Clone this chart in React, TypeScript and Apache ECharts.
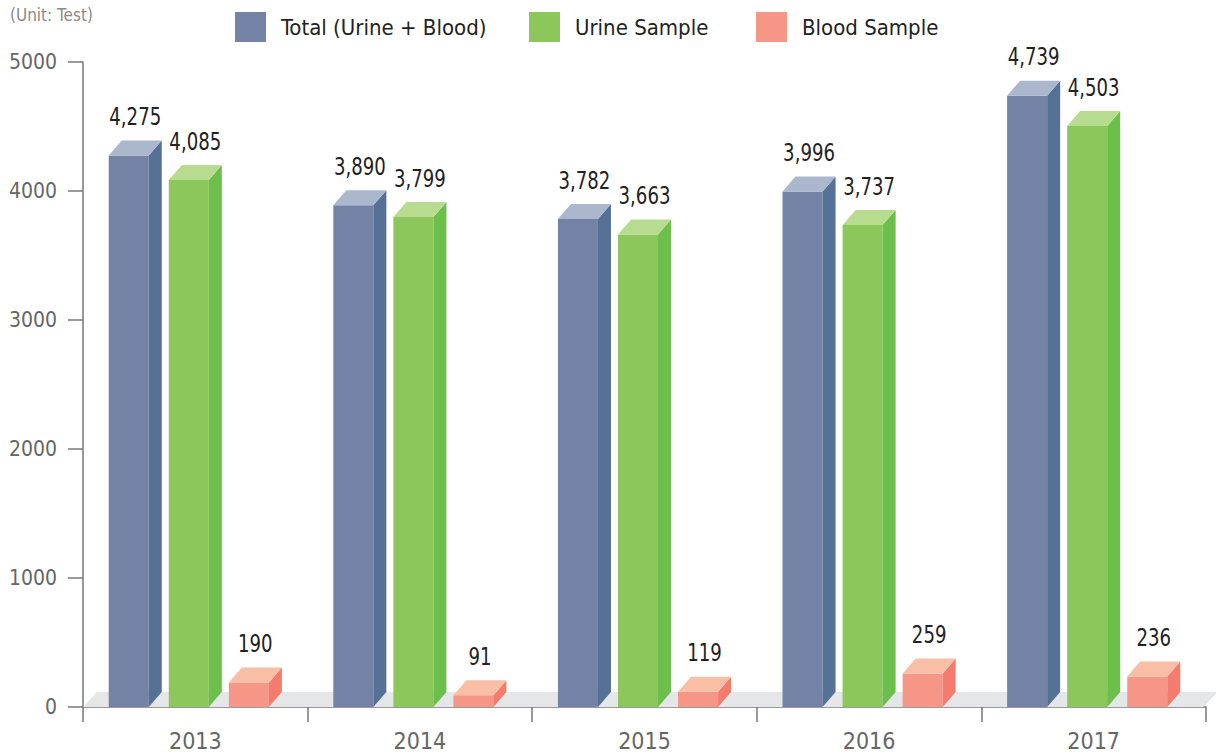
import React, { useEffect, useRef } from "react";
import * as echarts from "echarts";

const years = ["2013", "2014", "2015", "2016", "2017"];
const totalValues = [4275, 3890, 3782, 3996, 4739];
const urineValues = [4085, 3799, 3663, 3737, 4503];
const bloodValues = [190, 91, 119, 259, 236];
const seriesNames = ["Total (Urine + Blood)", "Urine Sample", "Blood Sample"];
const yTicks = [0, 1000, 2000, 3000, 4000, 5000];
const legendLefts = [235, 529, 756];

const palettes = [
  { front: "#7382a5", side: "#557196", top: "#abb7cc" },
  { front: "#8bc75a", side: "#6cbf4b", top: "#b8dc8f" },
  { front: "#f69686", side: "#f37c6e", top: "#f9bea6" },
];

const FONT = "'DejaVu Sans Condensed', 'Liberation Sans Narrow', Roboto, sans-serif";

function makeBarSeries(idx: number, values: number[]) {
  const pal = palettes[idx];
  return {
    type: "custom",
    name: seriesNames[idx],
    data: values.map((v, i) => [i, v]),
    encode: { x: 0, y: 1 },
    z: 3,
    itemStyle: { color: pal.front },
    renderItem: (params: any, api: any) => {
      const cat = api.value(0);
      const val = api.value(1);
      const top = api.coord([cat, val]);
      const base = api.coord([cat, 0]);
      const bw = api.size([1, 0])[0];
      const k = bw / 224.4;
      const w = 40 * k;
      const step = 60 * k;
      const dx = 13;
      const dy = 15;
      const left = top[0] - 86.5 * k + step * idx;
      const yTop = top[1];
      const yBase = base[1];
      return {
        type: "group",
        children: [
          {
            type: "rect",
            shape: { x: left, y: yTop, width: w, height: yBase - yTop },
            style: { fill: pal.front },
          },
          {
            type: "polygon",
            shape: {
              points: [
                [left + w, yTop],
                [left + w + dx, yTop - dy],
                [left + w + dx, yBase - dy],
                [left + w, yBase],
              ],
            },
            style: { fill: pal.side },
          },
          {
            type: "polygon",
            shape: {
              points: [
                [left, yTop],
                [left + dx, yTop - dy],
                [left + w + dx, yTop - dy],
                [left + w, yTop],
              ],
            },
            style: { fill: pal.top },
          },
          {
            type: "text",
            x: left + w / 2 + dx / 2,
            y: yTop - dy - 12,
            scaleX: 0.84,
            style: {
              text: val.toLocaleString("en-US"),
              x: 0,
              y: 0,
              align: "center",
              verticalAlign: "bottom",
              font: `24px ${FONT}`,
              fill: "#222",
            },
          },
        ],
      };
    },
  };
}

export default function App() {
  const ref = useRef<HTMLDivElement>(null);
  useEffect(() => {
    if (!ref.current) return;
    const chart = echarts.init(ref.current, null, { renderer: "svg" });
    chart.setOption({
      animation: false,
      backgroundColor: "#fff",
      textStyle: { fontFamily: FONT },
      grid: { left: 83, right: 10, top: 62, bottom: 49, containLabel: false, outerBoundsMode: "none" },
      legend: seriesNames.map((name, i) => ({
        top: 12,
        left: legendLefts[i],
        padding: 0,
        itemWidth: 31,
        itemHeight: 30,
        icon: "rect",
        data: [name],
        textStyle: { fontSize: 22, color: "#222", fontFamily: FONT, padding: [0, 0, 0, 10] },
      })),
      graphic: [
        {
          type: "text",
          left: 10,
          top: 6,
          style: { text: "(Unit: Test)", font: `17px ${FONT}`, fill: "#8a8a8a" },
        },
      ],
      xAxis: {
        type: "category",
        data: years,
        boundaryGap: true,
        axisLine: { lineStyle: { color: "#777", width: 1.5 } },
        axisTick: { show: true, length: 15, lineStyle: { color: "#777", width: 1.5 } },
        axisLabel: { fontSize: 23, color: "#666", margin: 22, fontFamily: FONT },
        splitLine: { show: false },
      },
      yAxis: {
        type: "value",
        min: yTicks[0],
        max: yTicks[yTicks.length - 1],
        interval: 1000,
        axisLine: { show: true, lineStyle: { color: "#777", width: 1.5 } },
        axisTick: { show: true, length: 15, lineStyle: { color: "#777", width: 1.5 } },
        axisLabel: {
          fontSize: 21,
          color: "#666",
          margin: 26,
          fontFamily: FONT,
          formatter: (v: number) => String(v),
        },
        splitLine: { show: false },
      },
      series: [
        {
          type: "custom",
          name: "floor",
          silent: true,
          data: [[0, 0]],
          z: 1,
          renderItem: (params: any) => {
            const cs = params.coordSys;
            const yb = cs.y + cs.height;
            return {
              type: "polygon",
              shape: {
                points: [
                  [cs.x, yb],
                  [cs.x + 14, yb - 15],
                  [cs.x + cs.width + 12, yb - 15],
                  [cs.x + cs.width - 3, yb],
                ],
              },
              style: { fill: "#e5e6e8" },
            };
          },
        },
        makeBarSeries(0, totalValues),
        makeBarSeries(1, urineValues),
        makeBarSeries(2, bloodValues),
      ],
    });
    return () => chart.dispose();
  }, []);
  return <div ref={ref} style={{ width: 1216, height: 756, position: "absolute", left: 0, top: 0 }} />;
}
